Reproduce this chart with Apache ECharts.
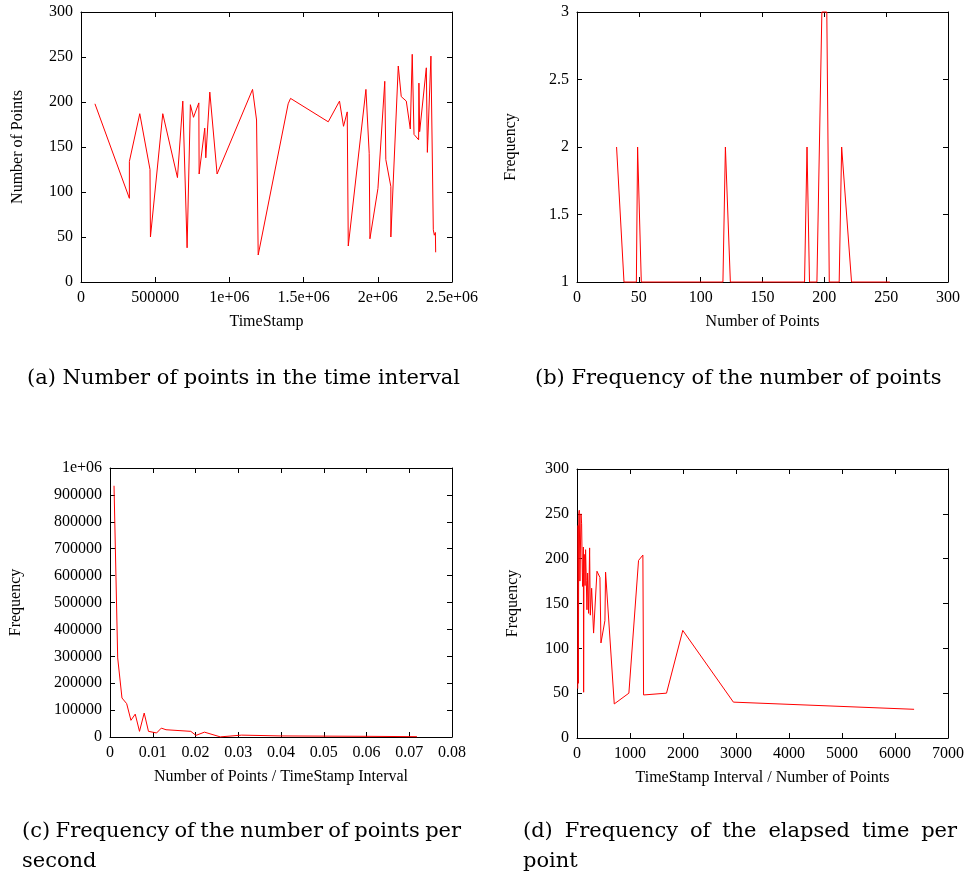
<!DOCTYPE html>
<html>
<head>
<meta charset="utf-8">
<script src="https://cdn.jsdelivr.net/npm/echarts@6/dist/echarts.min.js"></script>
<style>
  html, body { margin: 0; padding: 0; background: #fff; }
  #chart { width: 967px; height: 878px; }
</style>
</head>
<body>
<div id="chart"></div>
<script>
// (a) number of points in each time interval
const timeStamps = [94000, 326000, 326000, 396000, 465000, 468000, 551000, 650000, 686000, 715000,
  737000, 758000, 794000, 796000, 834000, 841000, 868000, 917000, 1156000, 1183000,
  1194000, 1396000, 1412000, 1666000, 1742000, 1769000, 1794000, 1801000, 1920000, 1942000,
  1947000, 2001000, 2047000, 2054000, 2088000, 2088000, 2138000, 2158000, 2192000, 2219000,
  2232000, 2244000, 2275000, 2277000, 2282000, 2327000, 2334000, 2358000, 2374000, 2381000,
  2388000, 2390000];
const pointCounts = [198, 93, 134, 187, 125, 50, 187, 116, 201, 38,
  197, 183, 199, 120, 171, 138, 211, 120, 214, 180,
  30, 198, 204, 178, 201, 173, 189, 40, 214, 143,
  48, 104, 223, 136, 106, 50, 240, 206, 201, 170,
  253, 164, 158, 221, 167, 238, 144, 251, 58, 52,
  55, 33];

// (b) frequency of the number of points
const countValues = [32, 38, 48, 49, 52, 118, 120, 124, 184, 186, 188, 194, 198, 202, 204, 212, 214, 222, 253];
const countFreq   = [2, 1, 1, 2, 1, 1, 2, 1, 1, 2, 1, 1, 3, 3, 1, 1, 2, 1, 1];

// (c) frequency of the number of points per second
const rateValues = [0.00094, 0.0018, 0.0028, 0.0039, 0.0049, 0.0059, 0.0069, 0.008, 0.009, 0.0109,
  0.012, 0.0131, 0.0189, 0.0201, 0.0221, 0.0258, 0.0308, 0.0398, 0.0601, 0.0718];
const rateFreq = [934000, 294000, 145000, 124000, 62000, 85000, 21000, 89000, 21000, 15000,
  33000, 27000, 21000, 6000, 18000, 500, 7000, 4000, 2500, 1200];

// (d) frequency of the elapsed time per point
const elapsedValues = [14, 20, 26, 34, 43, 55, 62, 75, 87, 100, 106, 120, 125, 132, 144, 152, 162, 175, 188, 200,
  219, 238, 251, 276, 313, 377, 433, 452, 527, 539, 703, 979, 1161, 1243, 1256, 1689, 1996, 2951, 6360];
const elapsedFreq = [55, 237, 61, 250, 254, 175, 173, 250, 239, 185, 169, 213, 51, 205, 202, 170, 210, 176, 143, 184,
  139, 212, 137, 167, 117, 186, 179, 106, 131, 185, 38, 50, 198, 204, 48, 50, 120, 40, 32];

const captions = [
  { lines: ['(a) Number of points in the time interval'], x0: 27, x1: 460, y: 379, justify: false },
  { lines: ['(b) Frequency of the number of points'], x0: 535, x1: 945, y: 379, justify: false },
  { lines: ['(c) Frequency of the number of points per', 'second'], x0: 22, x1: 461, y: 832, justify: true },
  { lines: ['(d) Frequency of the elapsed time per', 'point'], x0: 523, x1: 957, y: 832, justify: true }
];

const TICK_FONT = 'Liberation Serif';
const CAP_FAMILY = '"DejaVu Serif", serif';

// gnuplot-like %g formatting (1e+06 etc.)
function gfmt(v) {
  if (v === 0) return '0';
  const a = Math.abs(v);
  if (a >= 1e6) {
    const e = Math.floor(Math.log10(a) + 1e-9);
    const m = parseFloat((v / Math.pow(10, e)).toPrecision(6));
    return m + 'e+' + (e < 10 ? '0' : '') + e;
  }
  return String(parseFloat(v.toPrecision(6)));
}

const labelStyle = { fontFamily: TICK_FONT, fontSize: 16, color: '#000', margin: 8, formatter: gfmt };
const lineStyle = { color: '#000', width: 1 };
const tickStyle = { show: true, inside: true, length: 5, lineStyle: { color: '#000', width: 1 } };

function axisPair(kind, gi, min, max, interval, name, nameGap) {
  const main = {
    type: 'value', gridIndex: gi, min: min, max: max, interval: interval,
    position: kind === 'x' ? 'bottom' : 'left',
    axisLine: { show: true, onZero: false, lineStyle: lineStyle },
    axisTick: tickStyle,
    axisLabel: labelStyle,
    splitLine: { show: false },
    name: name, nameLocation: 'middle', nameGap: nameGap,
    nameTextStyle: { fontFamily: TICK_FONT, fontSize: 16, color: '#000' }
  };
  const mirror = {
    type: 'value', gridIndex: gi, min: min, max: max, interval: interval,
    position: kind === 'x' ? 'top' : 'right',
    axisLine: { show: true, onZero: false, lineStyle: lineStyle },
    axisTick: tickStyle,
    axisLabel: { show: false },
    splitLine: { show: false }
  };
  return [main, mirror];
}

const grids = [
  { left: 81, top: 12, width: 371, height: 270 },
  { left: 577, top: 12, width: 371, height: 270 },
  { left: 110, top: 468, width: 342, height: 269 },
  { left: 577, top: 469, width: 371, height: 269 }
];

const xAxes = [].concat(
  axisPair('x', 0, 0, 2500000, 500000, 'TimeStamp', 32),
  axisPair('x', 1, 0, 300, 50, 'Number of Points', 32),
  axisPair('x', 2, 0, 0.08, 0.01, 'Number of Points / TimeStamp Interval', 32),
  axisPair('x', 3, 0, 7000, 1000, 'TimeStamp Interval / Number of Points', 32)
);
const yAxes = [].concat(
  axisPair('y', 0, 0, 300, 50, 'Number of Points', 55),
  axisPair('y', 1, 1, 3, 0.5, 'Frequency', 58),
  axisPair('y', 2, 0, 1000000, 100000, 'Frequency', 86),
  axisPair('y', 3, 0, 300, 50, 'Frequency', 56)
);

function zip(xs, ys) { return xs.map((x, i) => [x, ys[i]]); }
function lineSeries(gi, xs, ys) {
  return {
    type: 'line', xAxisIndex: gi * 2, yAxisIndex: gi * 2,
    data: zip(xs, ys), showSymbol: false, symbol: 'none',
    lineStyle: { color: '#ff0000', width: 1 }, itemStyle: { color: '#ff0000' },
    clip: false, silent: true, z: 3
  };
}

// caption text, word-justified where the paragraph is justified
const measureCtx = document.createElement('canvas').getContext('2d');
function textWidth(t, size) {
  measureCtx.font = size + 'px ' + CAP_FAMILY;
  return measureCtx.measureText(t).width;
}
const refCap = captions[0];
const capSize = Math.min(21, 20 * (refCap.x1 - refCap.x0) / textWidth(refCap.lines[0], 20));
const capFont = capSize.toFixed(2) + 'px ' + CAP_FAMILY;

const graphics = [];
captions.forEach(c => {
  c.lines.forEach((line, li) => {
    const y = c.y + li * 30;
    const last = li === c.lines.length - 1;
    if (c.justify && !last) {
      const words = line.split(' ');
      const widths = words.map(w => textWidth(w, capSize));
      const total = widths.reduce((s, w) => s + w, 0);
      const gap = (c.x1 - c.x0 - total) / (words.length - 1);
      let x = c.x0;
      words.forEach((w, i) => {
        graphics.push({ type: 'text', silent: true,
          style: { text: w, x: x, y: y, font: capFont, fill: '#000', align: 'left', verticalAlign: 'middle' } });
        x += widths[i] + gap;
      });
    } else {
      graphics.push({ type: 'text', silent: true,
        style: { text: line, x: c.x0, y: y, font: capFont, fill: '#000', align: 'left', verticalAlign: 'middle' } });
    }
  });
});

const chart = echarts.init(document.getElementById('chart'), null, { renderer: 'canvas' });
chart.setOption({
  animation: false,
  backgroundColor: '#fff',
  grid: grids,
  xAxis: xAxes,
  yAxis: yAxes,
  series: [
    lineSeries(0, timeStamps, pointCounts),
    lineSeries(1, countValues, countFreq),
    lineSeries(2, rateValues, rateFreq),
    lineSeries(3, elapsedValues, elapsedFreq)
  ],
  graphic: graphics
});
</script>
</body>
</html>
